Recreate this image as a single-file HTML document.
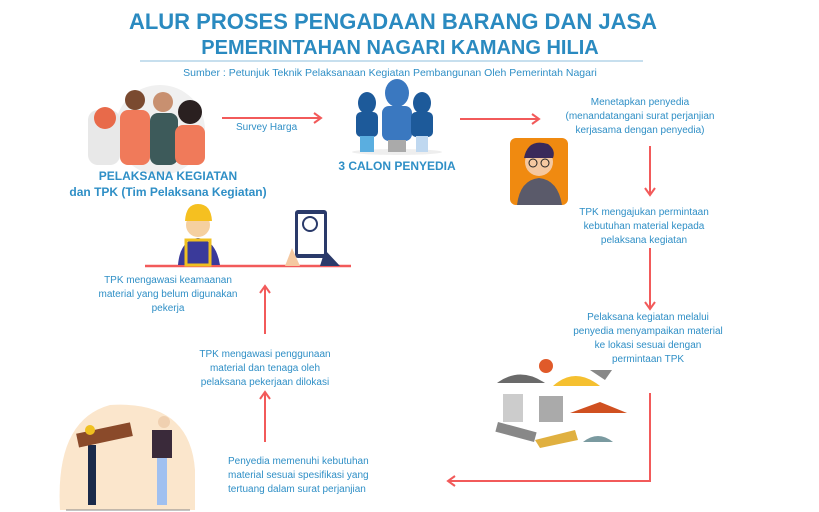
<!DOCTYPE html>
<html><head><meta charset="utf-8"><style>
body{margin:0;width:819px;height:512px;background:#fff;position:relative;overflow:hidden;font-family:"Liberation Sans",sans-serif;}
.t{position:absolute;color:#2a8ac0;text-align:center;white-space:nowrap;}
.s{position:absolute;color:#2f8fc6;font-size:10px;line-height:14px;text-align:center;white-space:nowrap;}
svg{position:absolute;left:0;top:0;}
</style></head><body>
<div class="t" style="left:0;width:786px;top:9px;font-size:22px;font-weight:bold;">ALUR PROSES PENGADAAN BARANG DAN JASA</div>
<div class="t" style="left:0;width:800px;top:37px;font-size:20px;font-weight:bold">PEMERINTAHAN NAGARI KAMANG HILIA</div>
<div class="s" style="left:0;width:780px;top:66px;font-size:10.5px">Sumber : Petunjuk Teknik Pelaksanaan Kegiatan Pembangunan Oleh Pemerintah Nagari</div>
<svg width="819" height="512">
<line x1="140" y1="61" x2="643" y2="61" stroke="#8fbfdc" stroke-width="1"/>
<g stroke="#f25a5a" stroke-width="2" fill="none">
<line x1="222" y1="118" x2="320" y2="118"/><polyline points="314,113 321,118 314,123"/>
<line x1="460" y1="119" x2="538" y2="119"/><polyline points="532,114 539,119 532,124"/>
<line x1="650" y1="146" x2="650" y2="194"/><polyline points="645,188 650,195 655,188"/>
<line x1="650" y1="248" x2="650" y2="308"/><polyline points="645,302 650,309 655,302"/>
<polyline points="650,393 650,481 449,481"/><polyline points="455,476 448,481 455,486"/>
<line x1="265" y1="442" x2="265" y2="393"/><polyline points="260,399 265,392 270,399"/>
<line x1="265" y1="334" x2="265" y2="287"/><polyline points="260,293 265,286 270,293"/>
<line x1="145" y1="266" x2="351" y2="266" stroke-width="2.5"/>
</g>
<circle cx="160" cy="130" r="45" fill="#f0f0f0"/>
<rect x="88" y="110" width="32" height="55" rx="10" fill="#e8e8e8"/><circle cx="105" cy="118" r="11" fill="#e86a4a"/>
<rect x="120" y="110" width="30" height="55" rx="8" fill="#f07a5a"/><circle cx="135" cy="100" r="10" fill="#7a4a30"/>
<rect x="150" y="113" width="28" height="52" rx="8" fill="#3d5a5a"/><circle cx="163" cy="102" r="10" fill="#c89070"/>
<rect x="175" y="125" width="30" height="40" rx="8" fill="#f07a5a"/><circle cx="190" cy="112" r="12" fill="#2a2020"/>
<ellipse cx="397" cy="152" rx="45" ry="3" fill="#eee"/>
<ellipse cx="367" cy="103" rx="9" ry="11" fill="#1d5a9a"/><rect x="356" y="112" width="22" height="25" rx="5" fill="#1d5a9a"/><rect x="360" y="136" width="14" height="16" fill="#5aaee0"/>
<ellipse cx="397" cy="93" rx="12" ry="14" fill="#3a78c0"/><rect x="382" y="106" width="30" height="35" rx="7" fill="#3a78c0"/><rect x="388" y="140" width="18" height="12" fill="#aaa"/>
<ellipse cx="422" cy="103" rx="9" ry="11" fill="#1d5a9a"/><rect x="411" y="112" width="22" height="25" rx="5" fill="#1d5a9a"/><rect x="416" y="136" width="12" height="16" fill="#bfd8f0"/>
<rect x="510" y="138" width="58" height="67" rx="6" fill="#f08a10"/>
<path d="M517 205 Q520 180 539 178 Q558 180 562 205Z" fill="#5a5a6a"/>
<circle cx="539" cy="162" r="14" fill="#f5c8a0"/><path d="M524 158 Q528 138 548 144 Q556 150 553 158Z" fill="#3a2a5a"/>
<circle cx="533" cy="163" r="4" fill="none" stroke="#222"/><circle cx="545" cy="163" r="4" fill="none" stroke="#222"/>
<path d="M178 265 Q180 240 198 238 Q216 240 220 265Z" fill="#3a3a9a"/>
<rect x="186" y="240" width="24" height="25" fill="none" stroke="#f0c020" stroke-width="3"/>
<circle cx="198" cy="225" r="12" fill="#f5d0a0"/><path d="M185 221 Q186 204 198 204 Q211 204 212 221Z" fill="#f5c020"/>
<rect x="295" y="210" width="32" height="48" rx="3" fill="#2a3a6a"/><rect x="298" y="214" width="26" height="40" fill="#fff"/>
<circle cx="310" cy="224" r="7" fill="none" stroke="#2a3a6a" stroke-width="2"/>
<path d="M285 266 L292 248 L300 266Z" fill="#f5c8a0"/><path d="M325 250 L340 266 L320 266Z" fill="#2a3a6a"/>
<path d="M497 383 Q520 366 545 383Z" fill="#6a6a6a"/><circle cx="546" cy="366" r="7" fill="#e05a2a"/>
<path d="M553 386 Q575 366 600 386Z" fill="#f5c030"/><path d="M590 370 L612 370 L605 380Z" fill="#888"/>
<rect x="503" y="394" width="20" height="28" fill="#ccc"/><rect x="539" y="396" width="24" height="26" fill="#aaa"/>
<path d="M570 413 L600 402 L627 413Z" fill="#d05020"/>
<rect x="496" y="427" width="40" height="10" fill="#888" transform="rotate(15 516 432)"/>
<path d="M535 440 L575 430 L578 440 L540 448Z" fill="#e0b040"/><path d="M583 442 Q598 430 613 442Z" fill="#7a9aa0"/>
<path d="M60 510 Q55 420 110 405 Q190 400 195 470 L195 510Z" fill="#fbe6cc"/>
<rect x="88" y="445" width="8" height="60" fill="#1a2a4a"/><rect x="77" y="428" width="55" height="14" fill="#8a4a2a" transform="rotate(-12 104 435)"/><circle cx="90" cy="430" r="5" fill="#f0c020"/>
<rect x="157" y="455" width="10" height="50" fill="#a0c0f0"/><rect x="152" y="430" width="20" height="28" fill="#3a2a3a"/><circle cx="164" cy="422" r="6" fill="#f0d0b0"/>
<line x1="66" y1="510" x2="190" y2="510" stroke="#888"/>
</svg>
<div class="s" style="left:236px;top:121px">Survey Harga</div>
<div class="s" style="left:297px;width:200px;top:159px;font-size:12px;font-weight:bold">3 CALON PENYEDIA</div>
<div class="s" style="left:68px;width:200px;top:168px;font-size:12px;line-height:16px;font-weight:bold">PELAKSANA KEGIATAN</div>
<div class="s" style="left:18px;width:300px;top:184px;font-size:12px;line-height:16px;font-weight:bold">dan TPK (Tim Pelaksana Kegiatan)</div>
<div class="s" style="left:540px;width:200px;top:96px">Menetapkan penyedia<br>(menandatangani surat perjanjian<br>kerjasama dengan penyedia)</div>
<div class="s" style="left:544px;width:200px;top:206px">TPK mengajukan permintaan<br>kebutuhan material kepada<br>pelaksana kegiatan</div>
<div class="s" style="left:548px;width:200px;top:311px">Pelaksana kegiatan melalui<br>penyedia menyampaikan material<br>ke lokasi sesuai dengan<br>permintaan TPK</div>
<div class="s" style="left:68px;width:200px;top:274px">TPK mengawasi keamaanan<br>material yang belum digunakan<br>pekerja</div>
<div class="s" style="left:165px;width:200px;top:348px">TPK mengawasi penggunaan<br>material dan tenaga oleh<br>pelaksana pekerjaan dilokasi</div>
<div class="s" style="left:228px;top:455px;text-align:left">Penyedia memenuhi kebutuhan<br>material sesuai spesifikasi yang<br>tertuang dalam surat perjanjian</div>
</body></html>
